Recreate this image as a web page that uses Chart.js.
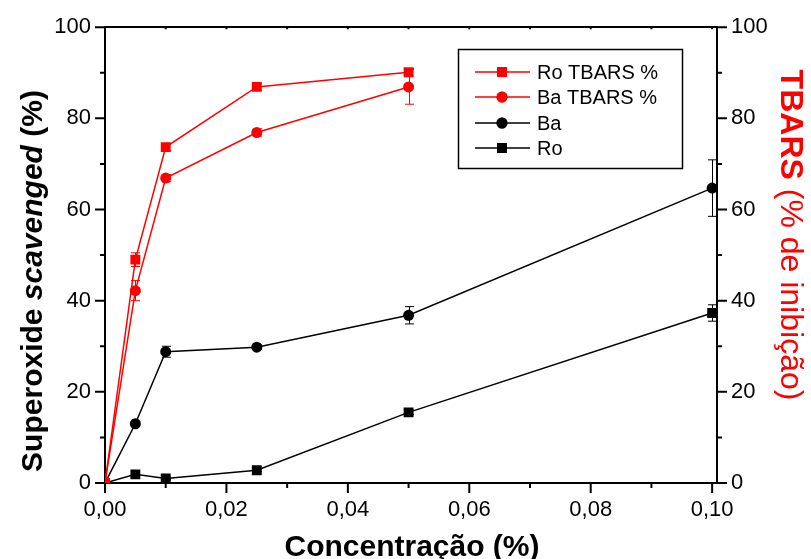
<!DOCTYPE html>
<html>
<head>
<meta charset="utf-8">
<script src="https://cdn.jsdelivr.net/npm/chart.js@4"></script>
<style>
    html, body { margin: 0; padding: 0; background: #fff; }
    #wrap { position: relative; width: 811px; height: 559px; }
</style>
</head>
<body>
<div id="wrap"><canvas id="chart" width="811" height="559"></canvas></div>
<script>
// concentrations (%)
const conc = [0, 0.005, 0.01, 0.025, 0.05, 0.1];

// series values
const roTbars = [0, 49.0, 73.7, 86.9, 90.1];
const roTbarsErr = [0, 1.5, 0.8, 0.8, 0.8];
const baTbars = [0, 42.2, 66.9, 76.9, 86.9];
const baTbarsErr = [0, 2.2, 0.8, 0.8, 3.8];
const ba = [0, 13.0, 28.8, 29.8, 36.8, 64.7];
const baErr = [0, 0.4, 1.2, 0.5, 1.9, 6.2];
const ro = [0, 1.9, 1.0, 2.8, 15.5, 37.3];
const roErr = [0, 0.3, 0.3, 0.3, 0.5, 1.8];

// tick labels
const xTicks = [0, 0.02, 0.04, 0.06, 0.08, 0.10];
const xMinor = [0.01, 0.03, 0.05, 0.07, 0.09];
const yTicks = [0, 20, 40, 60, 80, 100];
const yMinor = [10, 30, 50, 70, 90];

const RED = '#ff0000';
const BLACK = '#000000';
const FONT = '"Liberation Sans", Arial, sans-serif';

function toPoints(values) {
    return values.map((v, i) => ({ x: conc[i], y: v }));
}

function makeSet(label, values, errs, color, style, radius) {
    return {
        label: label,
        data: toPoints(values),
        errors: errs,
        showLine: true,
        borderColor: color,
        backgroundColor: color,
        borderWidth: 1.5,
        pointStyle: style,
        pointRadius: radius,
        pointBorderWidth: 0,
        pointBackgroundColor: color,
    };
}

// error bars, drawn through the scales
const errorBars = {
    id: 'errorBars',
    afterDatasetsDraw(chart) {
        const ctx = chart.ctx;
        const xs = chart.scales.x;
        const ys = chart.scales.y;
        chart.data.datasets.forEach(ds => {
            ctx.save();
            ctx.strokeStyle = ds.borderColor;
            ctx.lineWidth = 1;
            ds.data.forEach((p, i) => {
                const e = ds.errors[i];
                if (!e) return;
                const px = Math.round(xs.getPixelForValue(p.x)) + 0.5;
                const top = ys.getPixelForValue(p.y + e);
                const bot = ys.getPixelForValue(p.y - e);
                ctx.beginPath();
                ctx.moveTo(px, top); ctx.lineTo(px, bot);
                ctx.moveTo(px - 4.5, top); ctx.lineTo(px + 4.5, top);
                ctx.moveTo(px - 4.5, bot); ctx.lineTo(px + 4.5, bot);
                ctx.stroke();
            });
            ctx.restore();
        });
    }
};

// tick marks (major + minor) on the outside of the frame
const tickMarks = {
    id: 'tickMarks',
    afterDraw(chart) {
        const ctx = chart.ctx;
        const a = chart.chartArea;
        const xs = chart.scales.x;
        const ys = chart.scales.y;
        ctx.save();
        ctx.strokeStyle = BLACK;
        ctx.lineWidth = 2;
        ctx.beginPath();
        const xt = (v, len) => {
            const px = xs.getPixelForValue(v);
            ctx.moveTo(px, a.bottom); ctx.lineTo(px, a.bottom + len);
        };
        const yt = (v, len) => {
            const py = ys.getPixelForValue(v);
            ctx.moveTo(a.left, py); ctx.lineTo(a.left - len, py);
            ctx.moveTo(a.right, py); ctx.lineTo(a.right + len, py);
        };
        xTicks.forEach(v => xt(v, 10));
        xMinor.forEach(v => xt(v, 5));
        yTicks.forEach(v => yt(v, 10));
        yMinor.forEach(v => yt(v, 5));
        ctx.stroke();
        // small ticks along the top edge
        ctx.beginPath();
        xTicks.concat(xMinor).forEach(v => {
            const px = xs.getPixelForValue(v);
            ctx.moveTo(px, a.top); ctx.lineTo(px, a.top + 2);
        });
        ctx.stroke();
        ctx.restore();
    }
};

// axis titles with mixed styles + legend box
const titlesAndLegend = {
    id: 'titlesAndLegend',
    afterDraw(chart) {
        const ctx = chart.ctx;
        ctx.save();
        ctx.textBaseline = 'alphabetic';

        // bottom title
        ctx.fillStyle = BLACK;
        ctx.font = 'bold 30px ' + FONT;
        ctx.textAlign = 'center';
        ctx.fillText('Concentração (%)', 412, 556);

        // left title: Superoxide *scavenged* (%)
        const parts = [
            ['Superoxide ', 'bold 30px ' + FONT],
            ['scavenged', 'italic bold 30px ' + FONT],
            [' (%)', 'bold 30px ' + FONT],
        ];
        let total = 0;
        parts.forEach(p => { ctx.font = p[1]; total += ctx.measureText(p[0]).width; });
        ctx.save();
        ctx.translate(42, 281);
        ctx.rotate(-Math.PI / 2);
        ctx.textAlign = 'left';
        let off = -total / 2;
        parts.forEach(p => {
            ctx.font = p[1];
            ctx.fillText(p[0], off, 0);
            off += ctx.measureText(p[0]).width;
        });
        ctx.restore();

        // right title: TBARS (% de inibição)
        const rparts = [
            ['TBARS', 'bold 32px ' + FONT],
            [' (% de inibição)', '32px ' + FONT],
        ];
        total = 0;
        rparts.forEach(p => { ctx.font = p[1]; total += ctx.measureText(p[0]).width; });
        ctx.save();
        ctx.translate(781, 235);
        ctx.rotate(Math.PI / 2);
        ctx.fillStyle = RED;
        ctx.textAlign = 'left';
        off = -total / 2;
        rparts.forEach(p => {
            ctx.font = p[1];
            ctx.fillText(p[0], off, 0);
            off += ctx.measureText(p[0]).width;
        });
        ctx.restore();

        // legend
        ctx.strokeStyle = BLACK;
        ctx.lineWidth = 1.5;
        ctx.strokeRect(458.5, 49.5, 224, 119);
        ctx.font = '20px ' + FONT;
        ctx.textAlign = 'left';
        ctx.textBaseline = 'middle';
        const rows = [72, 97, 123, 148];
        chart.data.datasets.forEach((ds, i) => {
            const y = rows[i];
            ctx.strokeStyle = ds.borderColor;
            ctx.lineWidth = 1.5;
            ctx.beginPath();
            ctx.moveTo(475, y); ctx.lineTo(530, y);
            ctx.stroke();
            ctx.fillStyle = ds.borderColor;
            Chart.helpers.drawPoint(ctx, {
                pointStyle: ds.pointStyle, radius: ds.pointRadius, borderWidth: 0, rotation: 0
            }, 502, y);
            ctx.fill();
            ctx.fillStyle = BLACK;
            ctx.fillText(ds.label, 537, y + 1);
        });
        ctx.restore();
    }
};

function fixSize(prop, val) {
    return scale => { scale[prop] = val; };
}

const ctx = document.getElementById('chart').getContext('2d');
new Chart(ctx, {
    type: 'scatter',
    data: {
        datasets: [
            makeSet('Ro TBARS %', roTbars, roTbarsErr, RED, 'rect', 7),
            makeSet('Ba TBARS %', baTbars, baTbarsErr, RED, 'circle', 5.5),
            makeSet('Ba', ba, baErr, BLACK, 'circle', 5.5),
            makeSet('Ro', ro, roErr, BLACK, 'rect', 7),
        ],
    },
    options: {
        responsive: false,
        animation: false,
        layout: { padding: 0 },
        plugins: { legend: { display: false }, tooltip: { enabled: false } },
        scales: {
            x: {
                type: 'linear', position: 'bottom', min: 0, max: 0.1008,
                grid: { display: false, drawTicks: false },
                border: { display: true, color: BLACK, width: 2 },
                afterBuildTicks: s => { s.ticks = xTicks.map(v => ({ value: v })); },
                afterFit: fixSize('height', 76),
                ticks: {
                    color: BLACK, padding: 14,
                    font: { family: FONT, size: 22 },
                    callback: v => v.toFixed(2).replace('.', ','),
                },
            },
            x2: {
                type: 'linear', position: 'top', min: 0, max: 0.1008,
                grid: { display: false, drawTicks: false },
                border: { display: true, color: BLACK, width: 2 },
                ticks: { display: false },
                afterFit: fixSize('height', 25),
            },
            y: {
                type: 'linear', position: 'left', min: 0, max: 100,
                grid: { display: false, drawTicks: false },
                border: { display: true, color: BLACK, width: 2 },
                afterBuildTicks: s => { s.ticks = yTicks.map(v => ({ value: v })); },
                afterFit: fixSize('width', 105),
                ticks: { color: BLACK, padding: 14, font: { family: FONT, size: 22 } },
            },
            y2: {
                type: 'linear', position: 'right', min: 0, max: 100,
                grid: { display: false, drawTicks: false },
                border: { display: true, color: BLACK, width: 2 },
                afterBuildTicks: s => { s.ticks = yTicks.map(v => ({ value: v })); },
                afterFit: fixSize('width', 94),
                ticks: { color: BLACK, padding: 14, font: { family: FONT, size: 22 } },
            },
        },
    },
    plugins: [errorBars, tickMarks, titlesAndLegend],
});
</script>
</body>
</html>
